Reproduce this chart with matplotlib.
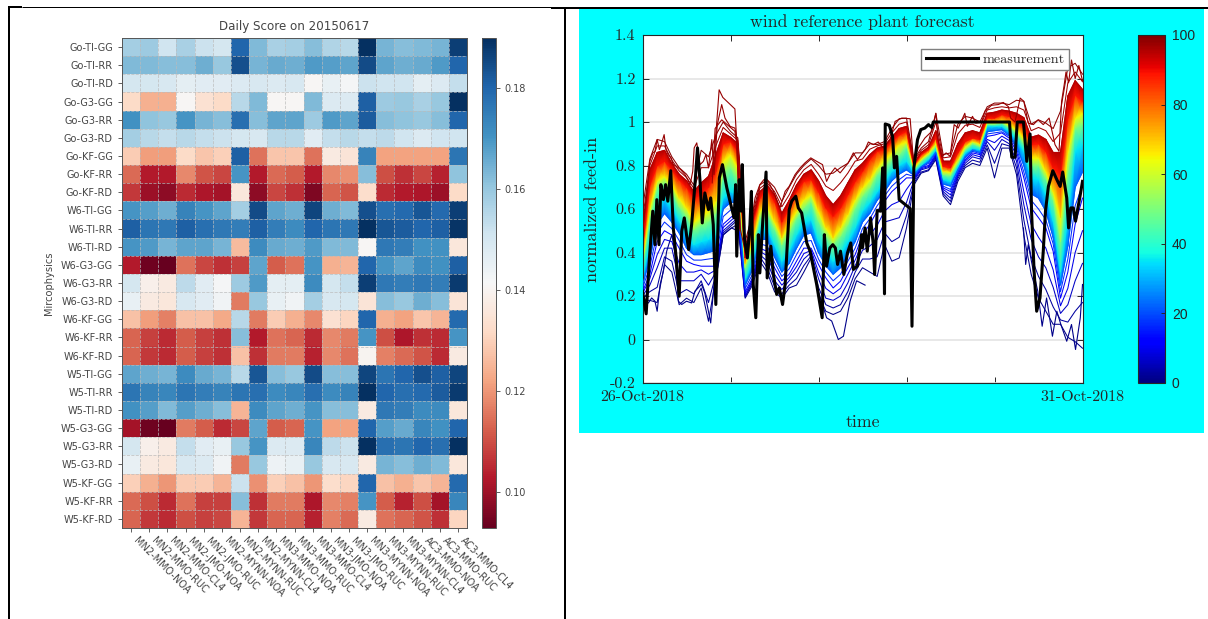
import numpy as np
import matplotlib
matplotlib.use("Agg")
import matplotlib.pyplot as plt
from matplotlib.lines import Line2D
from matplotlib.patches import Rectangle
from matplotlib.colors import Normalize
from matplotlib.cm import ScalarMappable
from matplotlib.transforms import ScaledTranslation

W, H = 1208, 619

# left panel: daily score heatmap
schemes = ["MN2-MMO-NOA", "MN2-MMO-RUC", "MN2-MMO-CL4", "MN2-JMO-NOA", "MN2-JMO-RUC",
           "MN2-MYNN-NOA", "MN2-MYNN-RUC", "MN2-MYNN-CL4", "MN3-MMO-NOA", "MN3-MMO-RUC",
           "MN3-MMO-CL4", "MN3-JMO-NOA", "MN3-JMO-RUC", "MN3-MYNN-NOA", "MN3-MYNN-RUC",
           "MN3-MYNN-CL4", "AC3-MMO-NOA", "AC3-MMO-RUC", "AC3-MMO-CL4"]
physics = ["Go-TI-GG", "Go-TI-RR", "Go-TI-RD", "Go-G3-GG", "Go-G3-RR", "Go-G3-RD",
           "Go-KF-GG", "Go-KF-RR", "Go-KF-RD", "W6-TI-GG", "W6-TI-RR", "W6-TI-RD",
           "W6-G3-GG", "W6-G3-RR", "W6-G3-RD", "W6-KF-GG", "W6-KF-RR", "W6-KF-RD",
           "W5-TI-GG", "W5-TI-RR", "W5-TI-RD", "W5-G3-GG", "W5-G3-RR", "W5-G3-RD",
           "W5-KF-GG", "W5-KF-RR", "W5-KF-RD"]
scores = [
    [.158, .159, .151, .157, .152, .150, .180, .163, .157, .158, .162, .156, .155, .190, .164, .162, .163, .164, .187],
    [.163, .163, .162, .162, .165, .160, .184, .164, .166, .165, .169, .168, .167, .185, .167, .165, .166, .169, .180],
    [.150, .150, .149, .146, .147, .147, .148, .149, .148, .149, .141, .145, .142, .152, .151, .151, .146, .148, .153],
    [.132, .124, .124, .141, .134, .132, .155, .163, .141, .141, .163, .148, .148, .181, .159, .160, .157, .160, .190],
    [.171, .161, .160, .170, .164, .162, .178, .162, .167, .167, .159, .169, .167, .182, .162, .161, .160, .162, .180],
    [.158, .155, .153, .155, .153, .152, .150, .149, .155, .155, .147, .153, .155, .153, .154, .151, .148, .151, .151],
    [.129, .121, .121, .132, .128, .130, .181, .115, .128, .128, .115, .137, .135, .174, .122, .122, .122, .122, .177],
    [.114, .103, .103, .118, .111, .109, .170, .103, .114, .112, .103, .118, .119, .162, .110, .106, .109, .104, .161],
    [.107, .100, .098, .105, .102, .101, .136, .098, .109, .106, .096, .113, .111, .133, .105, .103, .102, .100, .132],
    [.170, .168, .165, .174, .170, .167, .158, .185, .167, .165, .186, .165, .163, .184, .178, .179, .183, .179, .187],
    [.181, .177, .176, .181, .178, .176, .175, .181, .175, .172, .180, .177, .176, .190, .183, .182, .180, .181, .189],
    [.170, .169, .164, .167, .167, .164, .126, .172, .166, .165, .169, .163, .163, .141, .176, .175, .171, .171, .136],
    [.103, .094, .093, .115, .109, .106, .108, .167, .112, .115, .170, .124, .125, .180, .170, .167, .172, .171, .181],
    [.150, .139, .137, .154, .147, .142, .159, .169, .146, .146, .172, .150, .153, .187, .176, .175, .176, .175, .188],
    [.145, .137, .136, .149, .147, .143, .116, .160, .145, .143, .158, .149, .150, .135, .162, .160, .165, .162, .135],
    [.127, .121, .117, .127, .127, .123, .155, .116, .129, .124, .118, .134, .131, .180, .124, .122, .128, .125, .179],
    [.113, .108, .105, .112, .108, .106, .162, .103, .115, .113, .105, .118, .116, .170, .110, .102, .106, .105, .170],
    [.113, .107, .105, .112, .108, .106, .127, .106, .116, .116, .104, .118, .115, .140, .117, .114, .111, .105, .137],
    [.167, .165, .164, .172, .166, .164, .155, .183, .162, .160, .185, .162, .162, .186, .177, .180, .184, .181, .186],
    [.177, .174, .173, .177, .175, .174, .177, .178, .172, .173, .178, .172, .174, .190, .180, .178, .179, .182, .188],
    [.171, .168, .163, .168, .165, .162, .125, .172, .167, .165, .170, .162, .162, .137, .176, .175, .172, .172, .136],
    [.101, .094, .093, .116, .112, .105, .109, .167, .112, .113, .170, .122, .122, .180, .168, .166, .173, .171, .180],
    [.150, .139, .137, .153, .147, .145, .160, .170, .148, .148, .173, .154, .152, .190, .178, .177, .180, .178, .190],
    [.145, .137, .136, .149, .148, .143, .116, .160, .144, .145, .160, .149, .149, .137, .164, .162, .165, .163, .136],
    [.130, .124, .120, .129, .129, .125, .152, .119, .130, .127, .120, .133, .131, .180, .127, .124, .128, .125, .179],
    [.114, .110, .105, .115, .108, .108, .162, .106, .116, .116, .102, .118, .117, .170, .112, .104, .110, .101, .173],
    [.113, .107, .105, .110, .108, .109, .125, .107, .113, .113, .104, .117, .114, .137, .115, .113, .111, .106, .131],
]
score_ticks = [0.10, 0.12, 0.14, 0.16, 0.18]

# right panel: forecast quantiles, one value every 2 hours over the 5 days
hours = np.arange(0, 121, 2)
q99 = [.60, .83, .92, .91, .84, .79, .76, .71, .87, .84, .94, 1.0, .957, .927, .45, .575, .71, .735, .70, .635, .70, .76, .80, .83, .80, .76, .765, .79, .81, .858, .858, .90, .896, .91, .97, 1.015, 1.018, .827, .88, .91, 1.04, .85, .858, .99, 1.026, 1.018, 1.0, 1.07, 1.087, 1.087, 1.08, 1.10, 1.095, .99, 1.01, .995, .97, 1.05, 1.25, 1.27, 1.22]
q97 = [.55, .80, .89, .89, .825, .775, .745, .695, .79, .79, .89, .975, .945, .915, .425, .56, .695, .72, .68, .61, .665, .735, .78, .805, .76, .705, .685, .72, .765, .82, .83, .875, .89, .90, .95, .99, 1.0, .82, .87, .895, 1.0, .835, .84, .945, .985, .99, .975, 1.055, 1.065, 1.07, 1.065, 1.07, 1.055, .96, .975, .96, .91, .95, 1.18, 1.23, 1.185]
q95 = [.50, .78, .86, .87, .81, .76, .73, .68, .72, .75, .85, .95, .93, .90, .40, .55, .68, .71, .665, .58, .64, .71, .76, .78, .73, .66, .62, .66, .72, .78, .81, .85, .88, .89, .93, .97, .98, .81, .86, .885, .96, .82, .82, .90, .95, .96, .95, 1.04, 1.045, 1.055, 1.05, 1.04, 1.02, .93, .94, .92, .86, .86, 1.12, 1.19, 1.15]
q89 = [.42, .71, .80, .82, .78, .735, .70, .65, .666, .70, .773, .90, .91, .865, .375, .53, .65, .69, .635, .54, .605, .68, .727, .735, .68, .605, .567, .605, .666, .727, .773, .827, .865, .873, .91, .94, .957, .80, .85, .873, .926, .796, .79, .858, .91, .926, .92, 1.018, 1.018, 1.034, 1.026, 1.0, .98, .896, .90, .865, .79, .758, 1.018, 1.125, 1.095]
q65 = [.36, .605, .73, .75, .71, .65, .605, .54, .566, .59, .635, .82, .85, .79, .35, .45, .59, .61, .54, .467, .53, .59, .643, .666, .59, .513, .467, .513, .574, .643, .697, .735, .79, .827, .858, .896, .91, .79, .83, .858, .90, .773, .77, .827, .888, .91, .90, 1.0, 1.0, 1.003, .988, .965, .926, .835, .835, .773, .68, .56, .865, 1.018, 1.04]
q50 = [.337, .56, .70, .72, .68, .61, .567, .505, .528, .544, .58, .76, .79, .74, .33, .42, .56, .58, .51, .436, .49, .56, .605, .635, .544, .475, .436, .475, .528, .605, .66, .697, .76, .79, .827, .85, .888, .78, .82, .847, .888, .758, .755, .81, .873, .90, .888, .99, .99, .995, .975, .95, .90, .80, .80, .74, .643, .45, .773, .97, .99]
q35 = [.283, .45, .605, .65, .605, .545, .48, .435, .45, .46, .48, .65, .68, .666, .275, .36, .50, .51, .435, .36, .406, .48, .536, .55, .45, .40, .36, .39, .45, .513, .59, .63, .68, .727, .773, .80, .82, .77, .80, .83, .873, .735, .727, .796, .858, .88, .873, .98, .98, .98, .957, .92, .865, .743, .735, .666, .544, .31, .56, .865, .896]
q22 = [.25, .37, .53, .58, .54, .49, .42, .39, .39, .40, .41, .60, .63, .63, .25, .32, .46, .46, .38, .31, .35, .42, .48, .49, .40, .34, .30, .33, .39, .45, .54, .58, .64, .68, .73, .76, .78, .755, .795, .815, .86, .715, .705, .78, .84, .87, .86, .955, .96, .965, .94, .89, .80, .67, .65, .59, .47, .25, .43, .70, .77]
q17 = [.235, .335, .49, .54, .51, .455, .39, .365, .365, .37, .375, .565, .595, .61, .235, .30, .44, .43, .355, .29, .325, .39, .45, .455, .37, .31, .27, .30, .36, .42, .51, .555, .615, .66, .705, .735, .76, .75, .79, .81, .855, .705, .69, .77, .835, .865, .855, .945, .95, .955, .935, .88, .77, .64, .60, .55, .44, .22, .37, .615, .71]
q12 = [.22, .30, .45, .50, .48, .42, .36, .345, .337, .337, .337, .53, .56, .59, .22, .283, .42, .405, .33, .27, .30, .36, .42, .42, .345, .283, .237, .268, .33, .39, .48, .53, .59, .635, .68, .71, .743, .743, .79, .80, .85, .697, .68, .765, .827, .858, .85, .934, .94, .95, .926, .865, .743, .605, .56, .513, .405, .19, .31, .53, .65]
q9 = [.21, .28, .39, .46, .45, .35, .31, .31, .32, .30, .32, .515, .545, .575, .21, .275, .405, .385, .30, .25, .285, .335, .395, .41, .31, .235, .21, .235, .30, .365, .445, .48, .525, .59, .62, .635, .69, .737, .785, .795, .845, .69, .665, .757, .82, .85, .84, .92, .905, .935, .915, .845, .68, .53, .47, .42, .32, .155, .235, .40, .50]
q6 = [.20, .25, .33, .42, .42, .27, .27, .27, .30, .25, .31, .50, .53, .56, .20, .27, .39, .36, .27, .23, .27, .31, .37, .40, .28, .19, .18, .20, .26, .34, .41, .43, .46, .54, .55, .56, .63, .73, .78, .79, .84, .68, .65, .75, .81, .84, .83, .91, .87, .92, .90, .82, .62, .46, .38, .33, .24, .12, .16, .27, .35]
q3 = [.19, .22, .24, .38, .36, .21, .23, .21, .27, .17, .30, .49, .52, .55, .195, .26, .38, .33, .245, .21, .25, .28, .34, .385, .24, .16, .145, .16, .22, .31, .37, .37, .38, .49, .45, .47, .57, .72, .77, .78, .835, .67, .635, .74, .80, .825, .815, .895, .81, .90, .89, .79, .55, .38, .29, .23, .15, .09, .08, .13, .17]
q1 = [.18, .18, .17, .345, .31, .16, .19, .17, .237, .084, .28, .48, .51, .53, .19, .25, .36, .31, .22, .19, .237, .25, .31, .375, .207, .13, .115, .13, .19, .28, .33, .31, .29, .437, .36, .375, .513, .71, .765, .776, .827, .66, .62, .727, .79, .81, .80, .88, .743, .88, .88, .758, .48, .30, .19, .13, .07, .07, .01, -.01, -.04]

# single members that stray outside the fan
high_hours = [19.0, 20.0, 20.9, 21.9, 25.2, 25.7, 26.6]
high_vals = [.75, .94, 1.148, 1.113, 1.06, .91, .51]
high2_hours = [19.0, 19.8, 21.6, 25.2, 25.7, 26.6]
high2_vals = [.72, .97, 1.01, .957, .90, .50]
low_hours = [48.0, 50.2, 51.6, 53.4, 54.8, 56.6, 58.4, 60.7]
low_vals = [.22, .10, .085, 0.0, .015, .176, .27, .25]

# jagged upper edge of the fan
edge_hours = [0, 1.1, 2.0, 2.8, 3.4, 4.0, 4.6, 5.1, 5.9, 6.4, 7.0, 7.8, 8.4, 9.3, 10.4, 11.6, 13.0, 13.7, 14.1, 14.8,
              15.7, 16.6, 17.3, 18.0, 18.9, 19.5, 20.4, 21.6, 22.5, 23.9, 25.2, 25.9, 26.6, 28.0, 29.3, 30.7, 32.0, 33.1, 34.3, 35.7,
              37.5, 38.9, 40.0, 41.6, 43.0, 44.3, 45.9, 47.5, 49.1, 50.2, 51.1, 52.5, 53.9, 55.0, 56.1, 57.5, 58.6, 60.0, 60.7, 61.6,
              62.95, 64.3, 65.7, 67.5, 68.9, 70.7, 73.0, 73.9, 75.2, 77.0, 78.9, 80.0, 80.7, 81.6, 82.8, 83.9, 85.0, 86.1, 87.9, 88.6,
              90.0, 90.9, 92.5, 93.4, 95.2, 97.0, 98.4, 99.8, 100.4, 101.6, 103.0, 104.0, 105.2, 106.6, 107.9, 109.3, 110.9, 112.5, 113.6, 114.3,
              115.0, 115.5, 116.2, 117.0, 118.0, 119.0, 120.0]
edge_vals = [.498, .666, .819, .858, .865, .919, .873, .896, .942, .873, .85, .835, .804, .796, .781, .758, .712, .773, .881, .904,
             .804, .819, .85, .789, .919, .758, .988, 1.08, 1.018, .98, .972, .911, .513, .406, .498, .651, .712, .735, .727, .681,
             .605, .681, .704, .758, .789, .812, .835, .819, .804, .727, .758, .789, .766, .789, .812, .858, .827, .858, .873, .908,
             .896, .908, .881, .919, 1.003, 1.018, 1.015, .819, .88, .926, .957, 1.04, .91, .84, .858, .842, .988, .972, 1.04, .98,
             1.026, .995, 1.0, 1.05, 1.077, 1.08, 1.09, 1.07, 1.018, 1.0, 1.11, 1.095, .995, .988, 1.01, .988, 1.018, .896, .865, 1.095,
             1.17, 1.23, 1.18, 1.285, 1.2, 1.26, 1.19]

# jagged lower edge, first day and last day
low_left_hours = [0, 0.7, 1.6, 2.5, 3.4, 4.0, 4.8, 5.7, 6.6, 8.0, 8.9, 9.8, 10.7, 12.0, 13.4, 14.3, 16.1, 17.0, 18.6, 19.5, 20.7, 22.0, 24.3, 26.1]
low_left_vals = [.222, .176, .168, .191, .176, .13, .253, .314, .406, .482, .39, .176, .161, .176, .168, .222, .253, .214, .076, .253, .345, .482, .513, .498]
low_right_hours = [103.9, 104.5, 105.2, 106.6, 107.8, 109.0, 110.2, 111.8, 113.0, 114.1, 115.7, 117.0, 118.1, 119.4, 120.0]
low_right_vals = [.513, .345, .436, .314, .222, .061, .191, .015, .13, .069, -.008, .069, -.046, .10, .253]

meas_hours = [0.0, 1.0, 1.9, 2.8, 3.4, 3.9, 4.5, 5.0, 5.7, 6.3, 6.9, 7.7, 8.4, 9.1, 10.0, 10.7, 11.4, 12.0, 12.6, 13.4,
              14.3, 15.0, 15.7, 16.3, 17.0, 18.0, 18.6, 19.3, 20.0, 20.95, 21.8, 23.0, 24.3, 25.0, 25.4, 25.7, 26.4, 26.9, 27.2, 27.8,
              28.6, 29.3, 29.7, 30.2, 30.9, 31.6, 32.0, 32.8, 33.7, 34.0, 35.0, 35.7, 36.6, 37.3, 38.2, 38.9, 40.0, 40.7, 41.8, 42.5,
              43.4, 44.1, 44.8, 45.7, 47.5, 49.0, 49.6, 50.2, 51.1, 51.9, 52.6, 53.2, 54.0, 54.9, 55.9, 56.8, 57.5, 58.6, 59.8, 60.0,
              60.7, 61.3, 62.2, 62.95, 63.3, 64.0, 64.95, 65.5, 66.0, 66.2, 67.3, 68.2, 68.7, 69.3, 70.0, 73.0, 73.5, 74.0, 75.0, 75.9,
              77.0, 78.0, 78.9, 79.3, 100.1, 100.7, 101.6, 102.2, 103.9, 104.8, 105.7, 106.1, 106.8, 107.5, 108.4, 109.3, 109.9, 110.7, 111.9, 113.0,
              113.9, 114.6, 115.7, 116.2, 116.8, 117.5, 118.1, 119.4, 120.0]
meas_vals = [.222, .118, .375, .59, .436, .643, .436, .712, .643, .712, .636, .776, .513, .39, .199, .498, .559, .482, .413, .528,
             .712, .881, .727, .536, .674, .597, .651, .528, .161, .743, .804, .697, .605, .559, .712, .383, .735, .59, .804, .467,
             .375, .528, .681, .253, .10, .482, .306, .544, .77, .283, .429, .299, .207, .237, .161, .253, .597, .636, .659, .605,
             .582, .513, .444, .406, .253, .10, .482, .337, .421, .436, .421, .345, .406, .299, .398, .444, .322, .337, .482, .421,
             .513, .406, .559, .436, .299, .593, .59, .789, .21, .991, .985, .934, .789, .842, .643, .602, .061, .789, .919, .965,
             .972, .988, .975, 1.0, 1.0, .838, .838, 1.0, 1.0, .819, .945, .59, .314, .13, .191, .406, .59, .704, .776, .735,
             .704, .77, .651, .513, .605, .605, .544, .666, .727]

y_ticks = [-0.2, 0, 0.2, 0.4, 0.6, 0.8, 1, 1.2, 1.4]
y_labels = ["-0.2", "0", "0.2", "0.4", "0.6", "0.8", "1", "1.2", "1.4"]
day_ticks = [0, 24, 48, 72, 96, 120]
day_labels = ["26-Oct-2018", "", "", "", "", "31-Oct-2018"]
cbar_ticks = [0, 20, 40, 60, 80, 100]


def px_axes(x0, y0, x1, y1):
    # pixel box measured from the top left corner
    return fig.add_axes([x0 / W, 1 - y1 / H, (x1 - x0) / W, (y1 - y0) / H])


def frame_line(x0, y0, x1, y1, width):
    fig.add_artist(Line2D([x0 / W, x1 / W], [1 - y0 / H, 1 - y1 / H], color="black",
                          lw=width * 0.72, solid_capstyle="butt", transform=fig.transFigure))


fig = plt.figure(figsize=(W / 100, H / 100), dpi=100, facecolor="white")
grey_text = "#444444"

# table rules around the two pictures
frame_line(8, 7, 22, 7, 2)
frame_line(22, 7, 551, 7, 1)
frame_line(551, 7.5, 1208, 7.5, 2)
frame_line(8.5, 7, 8.5, 619, 2)
frame_line(565, 7, 565, 619, 2)

# heatmap
ax1 = px_axes(122, 38, 467, 528)
norm1 = Normalize(0.0928, 0.19)
ax1.imshow(scores, cmap="RdBu", norm=norm1, aspect="auto", interpolation="nearest")
ax1.set_xticks(np.arange(len(schemes)))
ax1.set_xticklabels(schemes, rotation=-45, ha="left", va="center", rotation_mode="anchor",
                    fontsize=7, color=grey_text)
ax1.set_yticks(np.arange(len(physics)))
ax1.set_yticklabels(physics, fontsize=7, color=grey_text)
ax1.set_xticks(np.arange(len(schemes) - 1) + 0.5, minor=True)
ax1.set_yticks(np.arange(len(physics) - 1) + 0.5, minor=True)
ax1.grid(which="minor", color="#bbbbbb", linestyle="--", linewidth=0.6, alpha=0.8)
ax1.tick_params(which="minor", length=0)
ax1.tick_params(which="major", length=3, width=0.6, color=grey_text)
# tick_params resets the label transforms, so nudge the slanted labels afterwards
for lab in ax1.get_xticklabels():
    lab.set_transform(lab.get_transform() + ScaledTranslation(4 / 100, -2 / 100, fig.dpi_scale_trans))
ax1.set_ylabel("Mircophysics", fontsize=7.1, color=grey_text, labelpad=5)
ax1.set_title("Daily Score on 20150617", fontsize=8.6, color=grey_text, pad=6)
for s in ax1.spines.values():
    s.set_color("#555555")
    s.set_linewidth(0.7)

cax1 = px_axes(482, 38, 496, 528)
cb1 = fig.colorbar(ScalarMappable(norm=norm1, cmap="RdBu"), cax=cax1)
cb1.set_ticks(score_ticks)
cb1.set_ticklabels(["%.2f" % t for t in score_ticks])
cb1.ax.tick_params(labelsize=7, length=3, width=0.6, labelcolor=grey_text, color=grey_text, pad=3)
cb1.outline.set_edgecolor("#555555")
cb1.outline.set_linewidth(0.7)

# cyan background of the forecast figure
fig.add_artist(Rectangle((579 / W, 1 - 433 / H), 625 / W, 425 / H, facecolor="#00ffff",
                         edgecolor="none", transform=fig.transFigure, zorder=-1))

ax2 = px_axes(642.5, 35, 1082.5, 383)
ax2.set_xlim(0, 120)
ax2.set_ylim(-0.2, 1.4)
ax2.yaxis.grid(True, color="#e4e4e4", lw=1.2)
ax2.set_axisbelow(True)

norm2 = Normalize(0, 100)
fan_levels = [22, 35, 50, 65, 89, 95]
fan_vals = np.array([q22, q35, q50, q65, q89, q95])
hour_grid = np.tile(hours, (len(fan_levels), 1))
level_grid = np.tile(np.array(fan_levels)[:, None], (1, len(hours)))
ax2.pcolormesh(hour_grid, fan_vals, level_grid, shading="gouraud", cmap="jet", norm=norm2, zorder=2)

for level, vals in [(1, q1), (3, q3), (6, q6), (9, q9), (12, q12), (17, q17), (22, q22),
                    (99, q99), (97, q97), (95, q95)]:
    ax2.plot(hours, vals, color=plt.cm.jet(level / 100), lw=0.75, zorder=3)
ax2.plot(high_hours, high_vals, color=plt.cm.jet(0.98), lw=0.8, zorder=3)
ax2.plot(high2_hours, high2_vals, color=plt.cm.jet(0.97), lw=0.8, zorder=3)
ax2.plot(edge_hours, edge_vals, color=plt.cm.jet(0.98), lw=0.8, zorder=3)
ax2.plot(low_hours, low_vals, color=plt.cm.jet(0.01), lw=0.8, zorder=3)
ax2.plot(low_left_hours, low_left_vals, color=plt.cm.jet(0.01), lw=0.8, zorder=3)
ax2.plot(low_right_hours, low_right_vals, color=plt.cm.jet(0.01), lw=0.8, zorder=3)
ax2.plot(meas_hours, meas_vals, color="black", lw=2.2, label="measurement", zorder=4)

cm_font = "cmr10"
text_dark = "#262626"
ax2.set_yticks(y_ticks)
ax2.set_yticklabels(y_labels, family=cm_font, fontsize=11.5, color=text_dark)
ax2.set_xticks(day_ticks)
ax2.set_xticklabels(day_labels, family=cm_font, fontsize=11.5, color=text_dark)
ax2.tick_params(direction="in", top=True, right=True, length=4, width=0.7, color=text_dark, pad=5)
ax2.set_title("wind reference plant forecast", family=cm_font, fontsize=12.8, color=text_dark, pad=6)
ax2.set_xlabel("time", family=cm_font, fontsize=12.8, color=text_dark, labelpad=8)
ax2.set_ylabel("normalized feed-in", family=cm_font, fontsize=13, color=text_dark, labelpad=7)
for s in ax2.spines.values():
    s.set_color(text_dark)
    s.set_linewidth(0.8)

leg = ax2.legend(loc="upper right", bbox_to_anchor=(0.97, 0.96), borderaxespad=0, fancybox=False,
                 framealpha=1, edgecolor="#808080", prop={"family": cm_font, "size": 10.2},
                 labelcolor=text_dark, handlelength=3.7, handletextpad=0.35, borderpad=0.3)
leg.get_frame().set_linewidth(1.0)
leg.set_zorder(6)

cax2 = px_axes(1138, 35, 1165, 383)
cb2 = fig.colorbar(ScalarMappable(norm=norm2, cmap="jet"), cax=cax2)
cb2.set_ticks(cbar_ticks)
cb2.ax.tick_params(direction="in", length=3, width=0.7, color=text_dark, labelsize=10, labelcolor=text_dark, pad=5)
for lab in cb2.ax.get_yticklabels():
    lab.set_family("Liberation Sans")
cb2.outline.set_edgecolor(text_dark)
cb2.outline.set_linewidth(0.8)

fig.savefig("out.png", dpi=100)
